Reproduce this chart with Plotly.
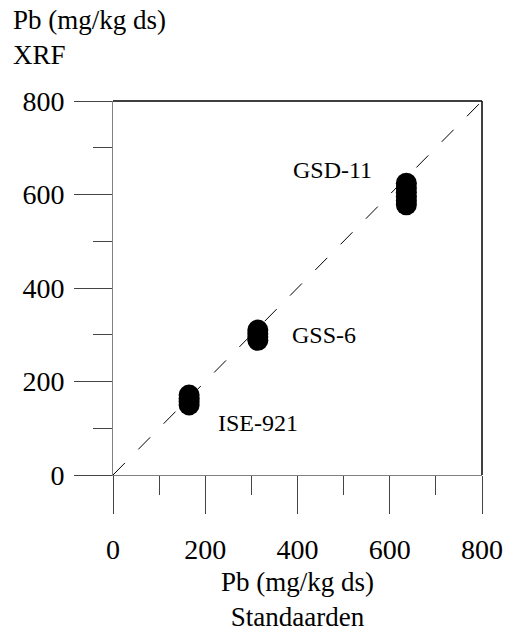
import plotly.graph_objects as go

# data
ise_x = [165, 165, 165, 165]
ise_y = [150, 157, 164, 171]
gss_x = [314, 314, 314, 314]
gss_y = [288, 295, 302, 310]
gsd_x = [636, 636, 636, 636, 636, 636]
gsd_y = [578, 587, 596, 605, 614, 624]
line_x = [0, 800]
line_y = [0, 800]
labels = ["ISE-921", "GSS-6", "GSD-11"]
label_x = [314, 458, 475]
label_y = [111, 300, 652]
ticks = [0, 200, 400, 600, 800]

FONT = "Liberation Serif, Times New Roman, serif"

fig = go.Figure()
fig.add_trace(go.Scatter(x=line_x, y=line_y, mode="lines",
                         line=dict(color="black", width=1, dash="17px,19px"),
                         hoverinfo="skip", showlegend=False))
for xs, ys in [(ise_x, ise_y), (gss_x, gss_y), (gsd_x, gsd_y)]:
    fig.add_trace(go.Scatter(x=xs, y=ys, mode="markers",
                             marker=dict(color="black", size=21, line=dict(width=0)),
                             showlegend=False))

for t, x, y in zip(labels, label_x, label_y):
    fig.add_annotation(x=x, y=y, text=t, showarrow=False, xref="x", yref="y",
                       font=dict(family=FONT, size=24, color="black"))

axis_common = dict(range=[0, 800], tickvals=ticks, ticks="outside", ticklen=38,
                   tickwidth=1, tickcolor="#444", showline=True, linecolor="#808080",
                   linewidth=1, showgrid=False, zeroline=False,
                   tickfont=dict(family=FONT, size=28, color="black"),
                   minor=dict(dtick=100, ticks="outside", ticklen=19, tickcolor="#444",
                              showgrid=False))
fig.update_xaxes(**axis_common, ticklabelstandoff=11)
fig.update_yaxes(**axis_common, ticklabelstandoff=4)

# top and right borders
fig.add_shape(type="line", xref="paper", yref="paper", x0=0, x1=1, y0=1, y1=1,
              line=dict(color="black", width=1.5))
fig.add_shape(type="line", xref="paper", yref="paper", x0=1, x1=1, y0=0, y1=1,
              line=dict(color="black", width=1.5))

fig.add_annotation(text="Pb (mg/kg ds)<br>XRF", xref="paper", yref="paper",
                   x=-113/374 + 10/374, y=1 + 98/374, xanchor="left", yanchor="top",
                   align="left", showarrow=False,
                   font=dict(family=FONT, size=27, color="black"))
fig.add_annotation(text="Pb (mg/kg ds)<br>Standaarden", xref="paper", yref="paper",
                   x=0.5, y=-(565 - 475) / 374, xanchor="center", yanchor="top",
                   align="center", showarrow=False,
                   font=dict(family=FONT, size=27, color="black"))

fig.update_layout(width=515, height=633, margin=dict(l=113, r=28, t=101, b=158),
                  plot_bgcolor="white", paper_bgcolor="white", showlegend=False)
fig.write_html("out.html")
